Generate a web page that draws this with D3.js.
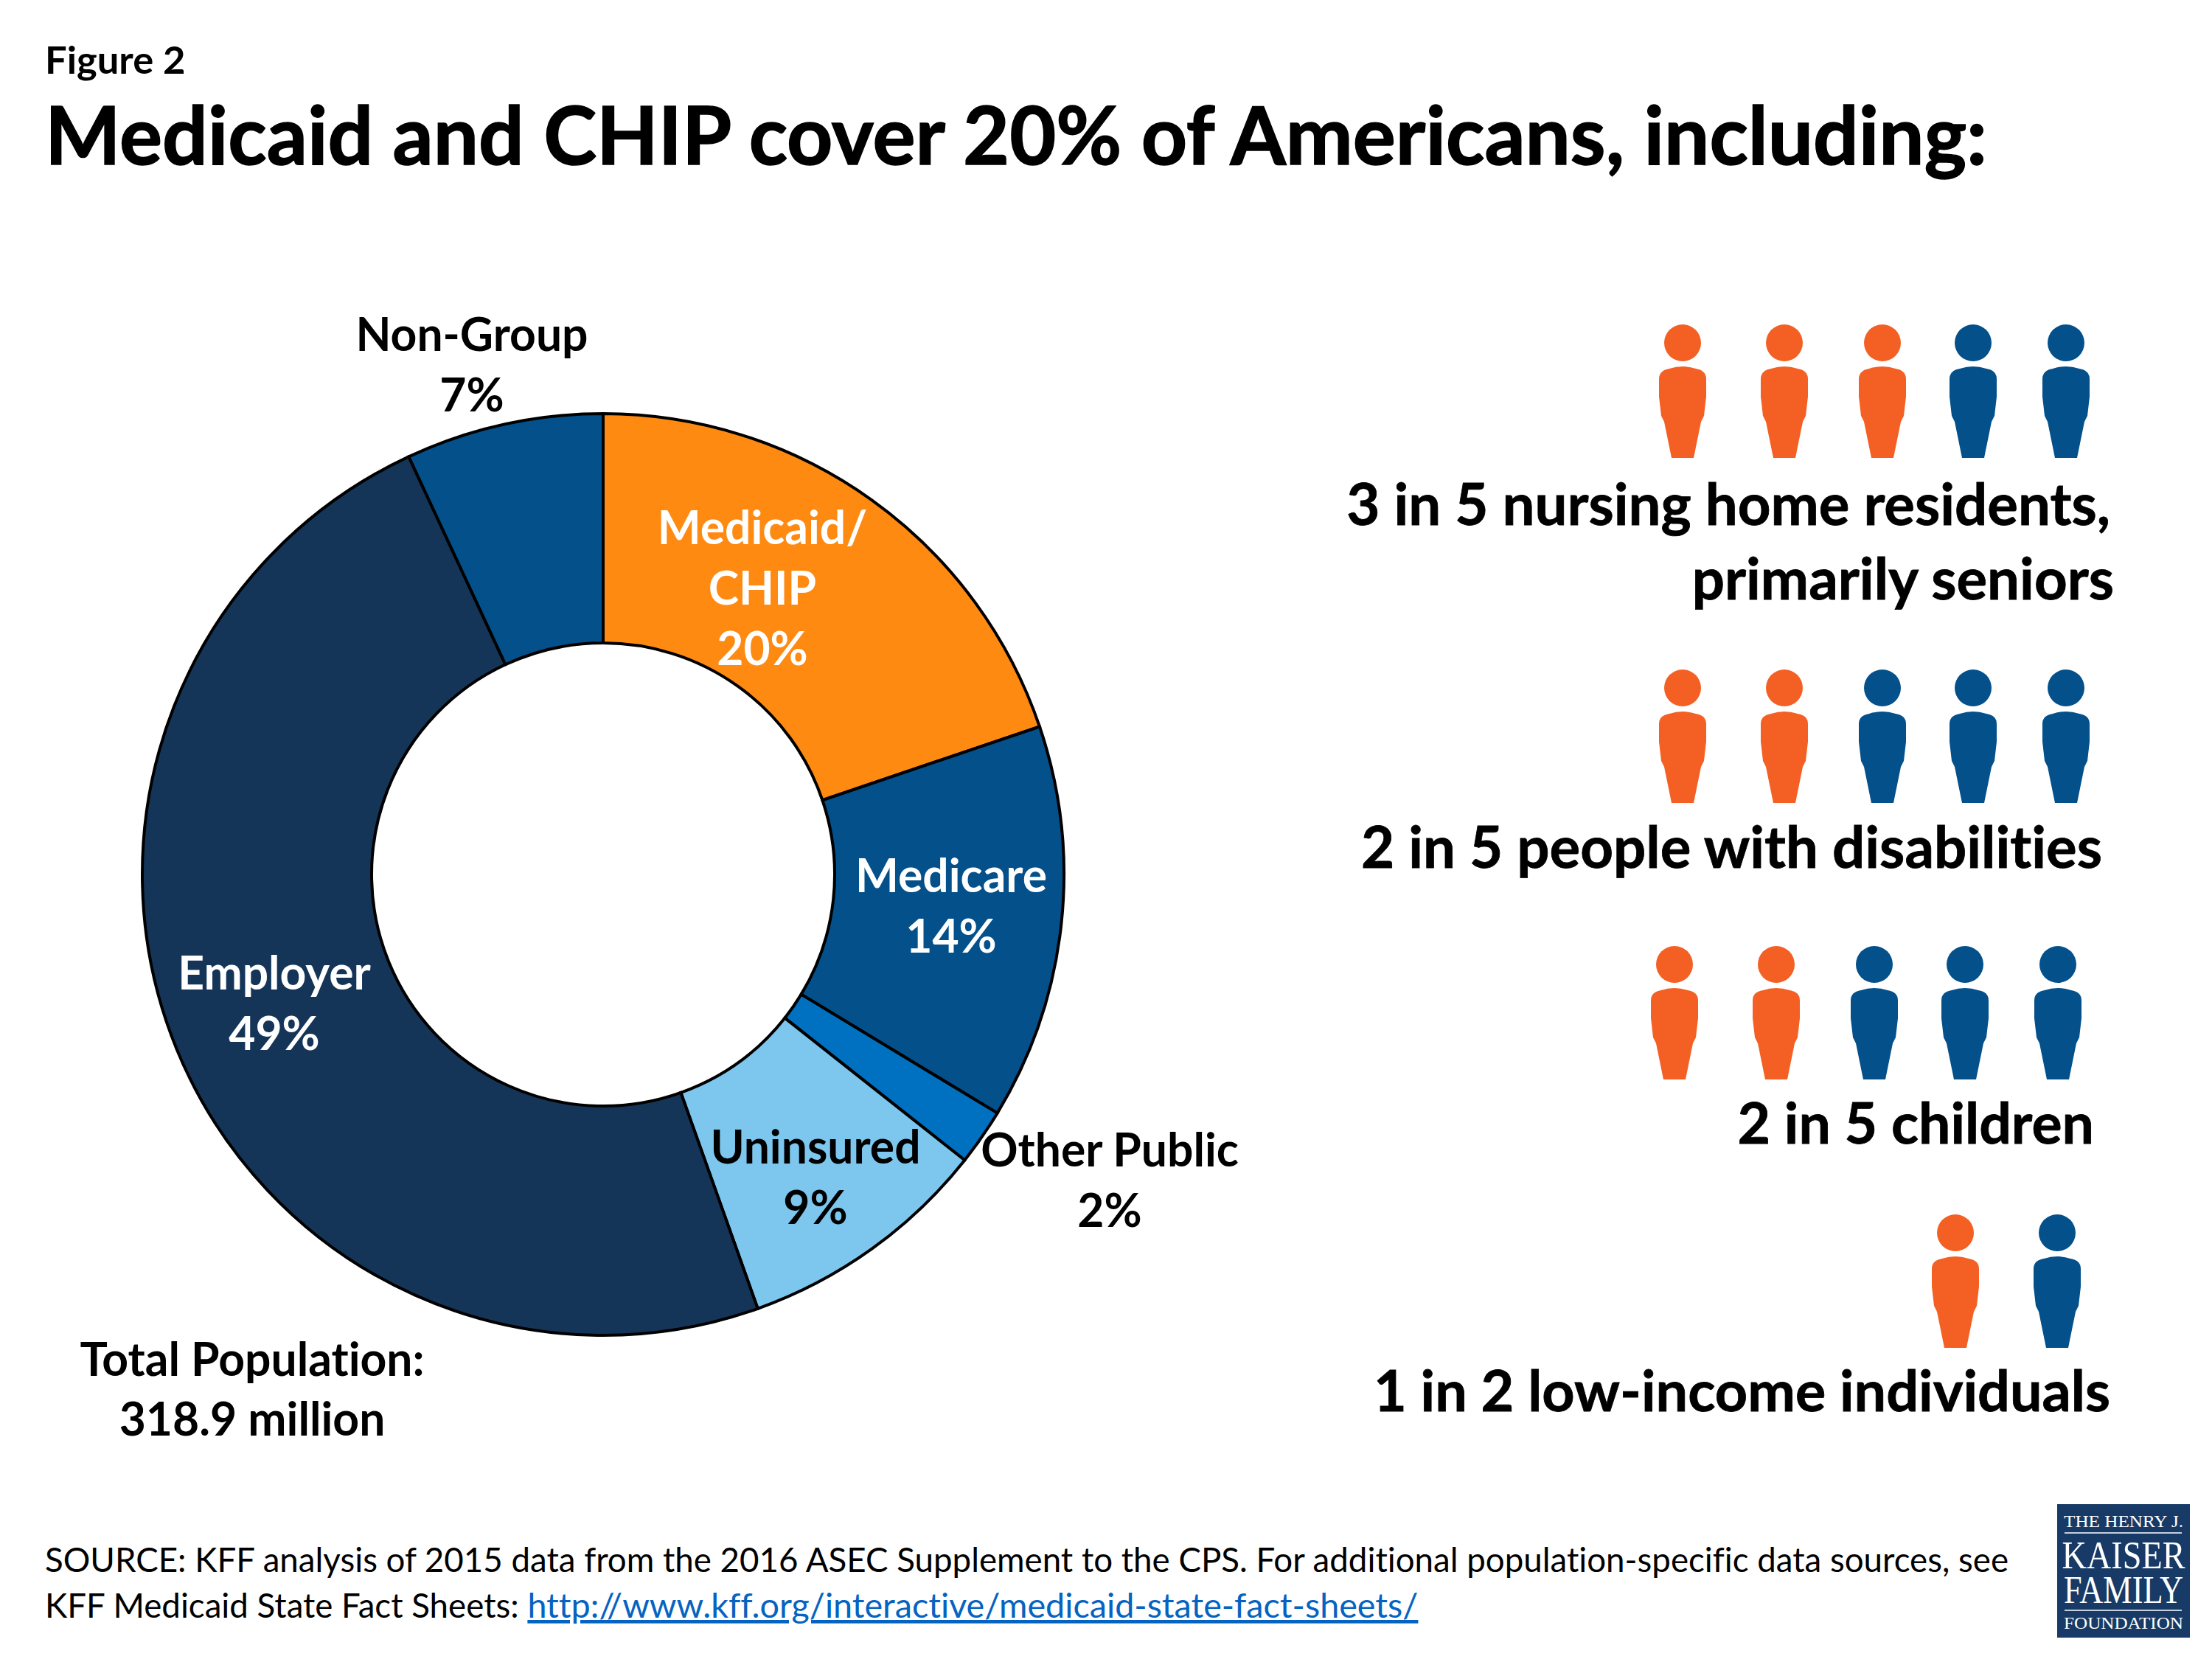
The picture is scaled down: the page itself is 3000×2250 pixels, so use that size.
<!DOCTYPE html>
<html>
<head>
<meta charset="utf-8">
<script src="https://cdn.jsdelivr.net/npm/d3@7"></script>
<style>
  html, body { margin: 0; padding: 0; background: #fff; }
  text { font-family: Lato, "Open Sans", sans-serif; font-variant-ligatures: none; }
</style>
</head>
<body>
<svg id="chart" width="3000" height="2250"></svg>
<script>
// data
const categories = ["Medicaid/CHIP", "Medicare", "Other Public", "Uninsured", "Employer", "Non-Group"];
const shares = [20, 14, 2, 9, 49, 7];
const sliceColors = ["#ff8a12", "#03508b", "#0071c1", "#7dc6ee", "#153558", "#03508b"];

const labelLines = [["Medicaid/", "CHIP", "20%"], ["Medicare", "14%"], ["Other Public", "2%"], ["Uninsured", "9%"], ["Employer", "49%"], ["Non-Group", "7%"]];
const labelColors = ["#fff", "#fff", "#000", "#000", "#fff", "#000"];
const labelX = [1034, 1290, 1505, 1106, 372, 640];
const labelY = [738, 1210, 1582, 1578, 1342, 476];

const groupHighlighted = [3, 2, 2, 1];
const groupTotals = [5, 5, 5, 2];
const groupLines = [["3 in 5 nursing home residents,", "primarily seniors"], ["2 in 5 people with disabilities"], ["2 in 5 children"], ["1 in 2 low-income individuals"]];

const svg = d3.select("#chart");

const addText = (x, y, str, size, opts = {}) => svg.append("text")
  .attr("x", x)
  .attr("y", y)
  .attr("font-size", size)
  .attr("font-weight", opts.weight || 700)
  .attr("text-anchor", opts.anchor || "start")
  .attr("fill", opts.fill || "#000")
  .attr("stroke", opts.heavy ? "#000" : null)
  .attr("stroke-width", opts.heavy || null)
  .text(str);

// titles
addText(61, 100, "Figure 2", 52.5);
addText(61, 223, "Medicaid and CHIP cover 20% of Americans, including:", 108.7, { heavy: 1.5 });

// donut
const cx = 818, cy = 1186;
const outerR = 625, innerR = 314;
const pie = d3.pie().sort(null).value(d => d)(shares);
const arc = d3.arc().innerRadius(innerR).outerRadius(outerR);

svg.append("g")
  .attr("transform", `translate(${cx},${cy})`)
  .selectAll("path")
  .data(pie)
  .enter().append("path")
  .attr("d", arc)
  .attr("fill", (d, i) => sliceColors[i])
  .attr("stroke", "#000")
  .attr("stroke-width", 4);

const lineGap = 82;
categories.forEach((c, i) => {
  labelLines[i].forEach((line, j) => {
    addText(labelX[i], labelY[i] + j * lineGap, line, 62.4, { anchor: "middle", fill: labelColors[i] });
  });
});
addText(342, 1866, "Total Population:", 62.4, { anchor: "middle" });
addText(342, 1947, "318.9 million", 62.4, { anchor: "middle" });

// people rows
const slotX = d3.scaleLinear().domain([0, 1, 2, 3, 4]).range([0, 138, 271, 394, 520]);
const rowStart = [2282, 2282, 2271, 2652];
const rowHeadY = [465, 933, 1308, 1672];
const personColor = d3.scaleOrdinal().domain([true, false]).range(["#f46024", "#03508b"]);

const personBody = () => {
  const p = d3.path();
  p.moveTo(-32, 49);
  p.quadraticCurveTo(-32, 37, -18, 35);
  p.quadraticCurveTo(0, 29, 18, 35);
  p.quadraticCurveTo(32, 37, 32, 49);
  p.lineTo(32, 73);
  p.lineTo(29, 99);
  p.lineTo(25, 107);
  p.lineTo(15, 156);
  p.lineTo(-15, 156);
  p.lineTo(-25, 107);
  p.lineTo(-29, 99);
  p.lineTo(-32, 73);
  p.closePath();
  return p.toString();
};

groupTotals.forEach((total, row) => {
  const people = d3.range(total);
  const g = svg.append("g")
    .selectAll("g")
    .data(people)
    .enter().append("g")
    .attr("transform", d => `translate(${rowStart[row] + slotX(d)},${rowHeadY[row]})`)
    .attr("fill", d => personColor(d < groupHighlighted[row]));
  g.append("circle").attr("r", 25);
  g.append("path").attr("d", personBody());
});

// people captions
addText(2862, 712, groupLines[0][0], 78, { anchor: "end", heavy: 0.8 });
addText(2867, 813, groupLines[0][1], 78, { anchor: "end", heavy: 0.8 });
addText(2851, 1177, groupLines[1][0], 78, { anchor: "end", heavy: 0.8 });
addText(2840, 1551, groupLines[2][0], 77, { anchor: "end", heavy: 0.8 });
addText(2862, 1914, groupLines[3][0], 77.3, { anchor: "end", heavy: 0.8 });

// source note
addText(61, 2132, "SOURCE: KFF analysis of 2015 data from the 2016 ASEC Supplement to the CPS. For additional population-specific data sources, see", 45.66, { weight: 400 });
const note = addText(61, 2194, "KFF Medicaid State Fact Sheets: ", 45.66, { weight: 400 });
note.append("tspan")
  .attr("fill", "#0563c1")
  .attr("font-size", 46.7)
  .attr("text-decoration", "underline")
  .text("http://www.kff.org/interactive/medicaid-state-fact-sheets/");

// logo
const logo = svg.append("g").attr("transform", "translate(2790,2040)");
logo.append("rect").attr("width", 180).attr("height", 181).attr("fill", "#173b66");
const logoText = (y, str, size, len) => logo.append("text")
  .attr("x", 90)
  .attr("y", y)
  .attr("text-anchor", "middle")
  .attr("font-size", size)
  .attr("textLength", len)
  .attr("lengthAdjust", "spacingAndGlyphs")
  .attr("fill", "#fff")
  .style("font-family", "'Liberation Serif', serif")
  .text(str);
logoText(31, "THE HENRY J.", 24, 162);
logoText(87, "KAISER", 52, 167);
logoText(134, "FAMILY", 52, 162);
logoText(169, "FOUNDATION", 23, 162);
[39, 144].forEach(y => logo.append("line")
  .attr("x1", 10).attr("x2", 169).attr("y1", y).attr("y2", y)
  .attr("stroke", "#c5d0de").attr("stroke-width", 2));
</script>
</body>
</html>
